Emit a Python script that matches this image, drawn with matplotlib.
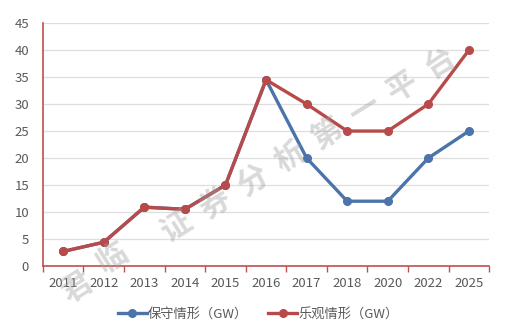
import numpy as np
import matplotlib
matplotlib.use("Agg")
import matplotlib.pyplot as plt

plt.rcParams["font.family"] = ["Noto Sans CJK SC", "DejaVu Sans"]

years = ["2011", "2012", "2013", "2014", "2015", "2016",
         "2017", "2018", "2020", "2022", "2025"]
conservative = [2.7, 4.4, 10.9, 10.5, 15.0, 34.5, 20.0, 12.0, 12.0, 20.0, 25.0]
optimistic = [2.7, 4.4, 10.9, 10.5, 15.0, 34.5, 30.0, 25.0, 25.0, 30.0, 40.0]
series_names = ["保守情形（GW）", "乐观情形（GW）"]
watermark = "君临证券分析第一平台"

BLUE = "#4a74aa"
RED = "#b84a4a"
AXIS_RED = "#c0504d"
GREY_TXT = "#595959"

fig = plt.figure(figsize=(5.3, 3.3), dpi=100)
ax = fig.add_axes([0.081, 0.194, 0.842, 0.736])

x = np.arange(len(years))
ax.plot(x, conservative, color=BLUE, lw=2.4, marker="o", ms=5.5,
        label=series_names[0], zorder=3)
ax.plot(x, optimistic, color=RED, lw=2.4, marker="o", ms=5.5,
        label=series_names[1], zorder=4)

ax.set_xlim(-0.5, len(years) - 0.5)
ax.set_ylim(0, 45)
ax.set_yticks(np.arange(0, 46, 5))
ax.set_xticks(x)
ax.set_xticklabels(years)
ax.grid(axis="y", color="#dedede", lw=0.9)
ax.set_axisbelow(True)

for side in ("top", "right"):
    ax.spines[side].set_visible(False)
for side in ("left", "bottom"):
    ax.spines[side].set_color(AXIS_RED)
    ax.spines[side].set_linewidth(1.2)

# category boundary ticks on the x axis, none on y
ax.set_xticks(np.arange(-0.5, len(years), 1.0), minor=True)
ax.tick_params(axis="x", which="major", length=0, pad=8,
               labelsize=9.5, labelcolor=GREY_TXT)
ax.tick_params(axis="x", which="minor", length=4, width=1.0,
               color=AXIS_RED, direction="out")
ax.tick_params(axis="y", length=0, pad=10, labelsize=9.5, labelcolor=GREY_TXT)

leg = fig.legend(loc="center", bbox_to_anchor=(0.487, 0.048), ncol=2,
                 frameon=False, fontsize=9.5, handlelength=2.2,
                 handletextpad=0.1, columnspacing=1.5)
for t in leg.get_texts():
    t.set_color(GREY_TXT)

# diagonal watermark, one glyph at a time
pts_x = np.concatenate([[77, 112], np.linspace(177, 440, 8)])
pts_y = np.concatenate([[288, 258], np.linspace(227, 63, 8)])
for ch, px, py in zip(watermark, pts_x, pts_y):
    fig.text(px / 530, 1 - py / 330, ch, fontsize=22, fontweight="bold",
             color="#a0a0a0", alpha=0.4, rotation=32,
             ha="center", va="center", zorder=10)

fig.savefig("out.png", dpi=100)
